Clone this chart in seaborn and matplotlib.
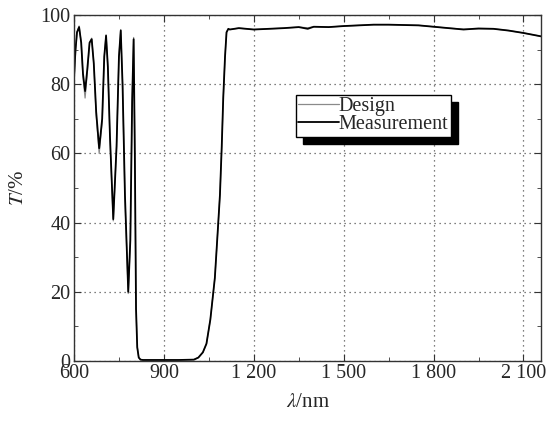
import pandas as pd
import matplotlib.pyplot as plt
import seaborn as sns
from matplotlib.ticker import MultipleLocator, FixedLocator

# Data
wavelength = [600, 605, 610, 617, 624, 630, 637, 644, 652, 659, 666, 674, 684, 694, 701,
              707, 713, 720, 731, 742, 750, 756, 762, 770, 781, 788, 794, 799, 803, 807,
              811, 816, 822, 830, 850, 900, 950, 1000, 1015, 1030, 1042, 1055, 1070, 1080,
              1087, 1093, 1098, 1104, 1109, 1115, 1120, 1150, 1200, 1250, 1300, 1350, 1380,
              1400, 1450, 1500, 1550, 1600, 1650, 1700, 1750, 1800, 1850, 1900, 1950, 2000,
              2050, 2100, 2130, 2160]
t_measure = [82, 90, 95, 96.5, 92, 83, 78, 84, 92, 93, 86, 72, 61.5, 70, 88,
             94, 85, 65, 41, 62, 88, 95.5, 80, 48, 20, 35, 75, 93, 60, 15,
             4, 1, 0.4, 0.3, 0.3, 0.3, 0.3, 0.4, 1, 2.5, 5, 12, 24, 38,
             48, 62, 76, 88, 95, 96, 95.8, 96.2, 95.8, 96, 96.2, 96.5, 96.0,
             96.6, 96.5, 96.8, 97, 97.2, 97.2, 97.1, 97, 96.6, 96.2, 95.8, 96.1, 96,
             95.5, 94.8, 94.3, 93.8]
t_design = [80, 89, 95, 96.8, 92, 82, 76, 83, 92, 93.3, 86, 71, 60, 69, 88,
            94.3, 85, 64, 40.5, 62, 88, 95.8, 80, 47, 19.5, 35, 75, 93.5, 60, 15,
            4, 1, 0.4, 0.3, 0.3, 0.3, 0.3, 0.4, 1, 2.5, 5, 12, 24, 38,
            48, 62, 76, 88, 95, 96, 95.8, 96.2, 95.8, 96, 96.2, 96.5, 96.3,
            96.6, 96.5, 96.8, 97, 97.2, 97.2, 97.1, 97, 96.6, 96.2, 95.9, 96.0, 96,
            95.5, 94.8, 94.3, 93.8]
x_ticks = [600, 900, 1200, 1500, 1800, 2100]
x_labels = ['600', '900', '1 200', '1 500', '1 800', '2 100']
y_ticks = [0, 20, 40, 60, 80, 100]

df = pd.DataFrame({
    'wl': wavelength * 2,
    'T': t_design + t_measure,
    'series': ['Design'] * len(wavelength) + ['Measurement'] * len(wavelength),
})

sns.set_style('ticks')
plt.rcParams['font.family'] = ['Liberation Serif', 'DejaVu Serif']
plt.rcParams['mathtext.fontset'] = 'stix'

fig = plt.figure(figsize=(5.49, 4.22), dpi=100)
ax = fig.add_axes([0.1348, 0.1445, 0.8515, 0.82])

sns.lineplot(data=df, x='wl', y='T', hue='series', size='series',
             palette={'Design': '#8a8a8a', 'Measurement': 'black'},
             sizes={'Design': 0.9, 'Measurement': 1.3},
             sort=False, estimator=None, ax=ax)

ax.set_xlim(600, 2160)
ax.set_ylim(0, 100)
ax.xaxis.set_major_locator(FixedLocator(x_ticks))
ax.set_xticklabels(x_labels)
ax.xaxis.set_minor_locator(MultipleLocator(150))
ax.set_yticks(y_ticks)
ax.yaxis.set_minor_locator(MultipleLocator(10))
ax.tick_params(which='both', direction='in', top=True, right=True, labelsize=14.5,
               color='#333333', pad=2.5)
ax.tick_params(which='major', length=5)
ax.tick_params(which='minor', length=3)
ax.grid(True, which='major', linestyle=(0, (1, 3)), color='#555555', linewidth=0.9)
for s in ax.spines.values():
    s.set_color('#333333')
    s.set_linewidth(1.0)

ax.set_xlabel(r'$\lambda$/nm', fontsize=15, labelpad=7)
ax.set_ylabel(r'$T$/%', fontsize=15, labelpad=9)

handles, labels = ax.get_legend_handles_labels()
leg = ax.legend(handles, labels, loc='upper left', bbox_to_anchor=(0.475, 0.77),
                fontsize=14.5, frameon=True, fancybox=False, handlelength=2.0,
                handletextpad=0.0, borderpad=0.12, labelspacing=-0.05,
                borderaxespad=0, shadow={'color': 'black', 'alpha': 1, 'ox': 5, 'oy': -5})
leg.get_frame().set_edgecolor('black')
leg.get_frame().set_linewidth(1.0)

plt.savefig('out.png', dpi=100)
plt.close('all')
